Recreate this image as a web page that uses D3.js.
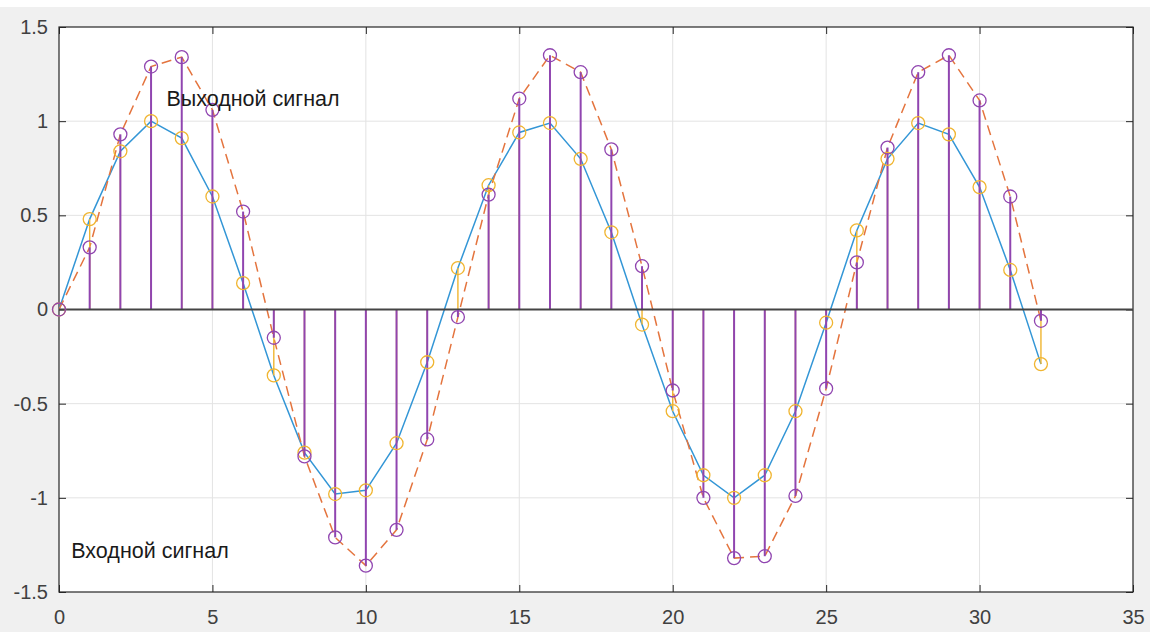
<!DOCTYPE html>
<html>
<head>
<meta charset="utf-8">
<script src="https://cdn.jsdelivr.net/npm/d3@7"></script>
<style>
  body { margin: 0; background: #fff; }
  text { font-family: "Liberation Sans", Arial, sans-serif; }
</style>
</head>
<body>
<div id="chart"></div>
<script>
// отсчёты n = 0..32
const samples = d3.range(0, 33);

// входной сигнал (жёлтые кружки, синяя линия)
const inputSignal = [0, 0.48, 0.84, 1.00, 0.91, 0.60, 0.14, -0.35, -0.76, -0.98,
  -0.96, -0.71, -0.28, 0.22, 0.66, 0.94, 0.99, 0.80, 0.41, -0.08,
  -0.54, -0.88, -1.00, -0.88, -0.54, -0.07, 0.42, 0.80, 0.99, 0.93,
  0.65, 0.21, -0.29];

// выходной сигнал (фиолетовые кружки, пунктир)
const outputSignal = [0, 0.33, 0.93, 1.29, 1.34, 1.06, 0.52, -0.15, -0.78, -1.21,
  -1.36, -1.17, -0.69, -0.04, 0.61, 1.12, 1.35, 1.26, 0.85, 0.23,
  -0.43, -1.00, -1.32, -1.31, -0.99, -0.42, 0.25, 0.86, 1.26, 1.35,
  1.11, 0.60, -0.06];

const xTicks = [0, 5, 10, 15, 20, 25, 30, 35];
const yTicks = [-1.5, -1, -0.5, 0, 0.5, 1, 1.5];

const labels = [
  { text: "Выходной сигнал", x: 3.5, y: 1.12 },
  { text: "Входной сигнал", x: 0.4, y: -1.28 }
];

const width = 1161, height = 632;
const plotLeft = 59, plotRight = 1133, plotTop = 27, plotBottom = 592;

const svg = d3.select("#chart").append("svg")
  .attr("width", width)
  .attr("height", height);

// фон окна
svg.append("rect")
  .attr("x", 0).attr("y", 7)
  .attr("width", 1150).attr("height", height - 7)
  .attr("fill", "#f0f0f0");

svg.append("rect")
  .attr("x", plotLeft).attr("y", plotTop)
  .attr("width", plotRight - plotLeft).attr("height", plotBottom - plotTop)
  .attr("fill", "#fff");

const x = d3.scaleLinear().domain([0, 35]).range([plotLeft, plotRight]);
const y = d3.scaleLinear().domain([-1.5, 1.5]).range([plotBottom, plotTop]);

// сетка
svg.append("g")
  .selectAll("line").data(xTicks.slice(1, -1)).join("line")
  .attr("x1", d => x(d)).attr("x2", d => x(d))
  .attr("y1", plotTop).attr("y2", plotBottom)
  .attr("stroke", "#e3e3e3").attr("stroke-width", 1);
svg.append("g")
  .selectAll("line").data(yTicks.slice(1, -1)).join("line")
  .attr("x1", plotLeft).attr("x2", plotRight)
  .attr("y1", d => y(d)).attr("y2", d => y(d))
  .attr("stroke", "#e3e3e3").attr("stroke-width", 1);

// оси (тики внутрь, со всех сторон)
const tickLen = 7;
const axisColor = "#262626";
function styleAxis(g) {
  g.select(".domain").remove();
  g.selectAll(".tick line").attr("stroke", axisColor);
  g.selectAll(".tick text")
    .attr("fill", "#404040")
    .style("font-size", "20px")
    .style("font-family", "'Liberation Sans', Arial, sans-serif");
}
svg.append("g")
  .attr("transform", `translate(0,${plotBottom})`)
  .call(d3.axisBottom(x).tickValues(xTicks).tickSize(-tickLen).tickPadding(18).tickFormat(d3.format("d")))
  .call(styleAxis);
svg.append("g")
  .attr("transform", `translate(0,${plotTop})`)
  .call(d3.axisTop(x).tickValues(xTicks).tickSize(-tickLen).tickFormat(""))
  .call(styleAxis);
svg.append("g")
  .attr("transform", `translate(${plotLeft},0)`)
  .call(d3.axisLeft(y).tickValues(yTicks).tickSize(-tickLen).tickPadding(11).tickFormat(d => d))
  .call(styleAxis);
svg.append("g")
  .attr("transform", `translate(${plotRight},0)`)
  .call(d3.axisRight(y).tickValues(yTicks).tickSize(-tickLen).tickFormat(""))
  .call(styleAxis);

// рамка
svg.append("rect")
  .attr("x", plotLeft).attr("y", plotTop)
  .attr("width", plotRight - plotLeft).attr("height", plotBottom - plotTop)
  .attr("fill", "none").attr("stroke", axisColor).attr("stroke-width", 1.2);

const inputData = samples.map((n, i) => ({ n: n, v: inputSignal[i] }));
const outputData = samples.map((n, i) => ({ n: n, v: outputSignal[i] }));

const line = d3.line().x(d => x(d.n)).y(d => y(d.v));

// линии
svg.append("path").datum(inputData)
  .attr("fill", "none").attr("stroke", "#3396d6").attr("stroke-width", 1.5)
  .attr("d", line);
svg.append("path").datum(outputData)
  .attr("fill", "none").attr("stroke", "#e4743e").attr("stroke-width", 1.5)
  .attr("stroke-dasharray", "10,6")
  .attr("d", line);

// стебли
function stems(data, color, w) {
  svg.append("g").selectAll("line").data(data).join("line")
    .attr("x1", d => x(d.n)).attr("x2", d => x(d.n))
    .attr("y1", y(0)).attr("y2", d => y(d.v))
    .attr("stroke", color).attr("stroke-width", w);
}
const yellow = "#f0b530", purple = "#9045b0";
stems(inputData, yellow, 1.4);
stems(outputData, purple, 2);

// базовая линия
svg.append("line")
  .attr("x1", plotLeft).attr("x2", plotRight)
  .attr("y1", y(0)).attr("y2", y(0))
  .attr("stroke", "#444").attr("stroke-width", 1.8);

// маркеры
function markers(data, color) {
  svg.append("g").selectAll("circle").data(data).join("circle")
    .attr("cx", d => x(d.n)).attr("cy", d => y(d.v))
    .attr("r", 6.5)
    .attr("fill", "none").attr("stroke", color).attr("stroke-width", 1.3);
}
markers(inputData, yellow);
markers(outputData, purple);

// подписи
svg.append("g").selectAll("text").data(labels).join("text")
  .attr("x", d => x(d.x)).attr("y", d => y(d.y))
  .attr("dominant-baseline", "central")
  .attr("fill", "#1a1a1a")
  .style("font-size", "21.5px")
  .text(d => d.text);
</script>
</body>
</html>
